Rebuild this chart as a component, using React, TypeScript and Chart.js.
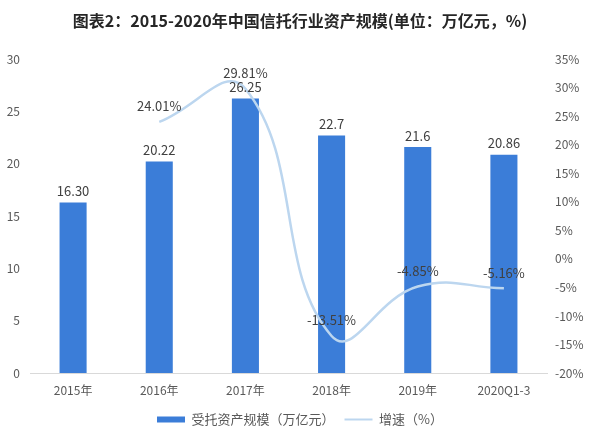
import React, { useEffect, useRef } from "react";
import { Chart, registerables } from "chart.js";

Chart.register(...registerables);

const categories = ["2015年", "2016年", "2017年", "2018年", "2019年", "2020Q1-3"];
const assetValues = [16.3, 20.22, 26.25, 22.7, 21.6, 20.86];
const assetLabels = ["16.30", "20.22", "26.25", "22.7", "21.6", "20.86"];
const growthValues = [null, 24.01, 29.81, -13.51, -4.85, -5.16];
const growthLabels = ["", "24.01%", "29.81%", "-13.51%", "-4.85%", "-5.16%"];

const titleText = "图表2：2015-2020年中国信托行业资产规模(单位：万亿元，%)";
const barName = "受托资产规模（万亿元）";
const lineName = "增速（%）";

const BAR_COLOR = "#3b7dd8";
const LINE_COLOR = "#bcd6ef";
const FONT = '"Noto Sans CJK SC", "Noto Sans", sans-serif';

const labelPlugin = {
  id: "valueLabels",
  afterDatasetsDraw(chart: any) {
    const ctx = chart.ctx;
    ctx.save();
    ctx.font = `13px ${FONT}`;
    ctx.fillStyle = "#404040";
    ctx.textAlign = "center";
    ctx.textBaseline = "bottom";
    const barMeta = chart.getDatasetMeta(0);
    barMeta.data.forEach((el: any, i: number) => {
      ctx.fillText(assetLabels[i], el.x, el.y - 5);
    });
    const lineMeta = chart.getDatasetMeta(1);
    lineMeta.data.forEach((el: any, i: number) => {
      if (growthValues[i] === null) return;
      ctx.fillText(growthLabels[i], el.x, el.y - 9);
    });
    ctx.restore();
  },
};

export default function App() {
  const ref = useRef<HTMLCanvasElement>(null);
  useEffect(() => {
    document.body.style.margin = "0";
    const chart = new Chart(ref.current as HTMLCanvasElement, {
      type: "bar",
      data: {
        labels: categories,
        datasets: [
          {
            type: "bar",
            label: barName,
            data: assetValues,
            backgroundColor: BAR_COLOR,
            borderWidth: 0,
            barPercentage: 0.314,
            categoryPercentage: 1,
            yAxisID: "y",
            order: 1,
          } as any,
          {
            type: "line",
            label: lineName,
            data: growthValues,
            borderColor: LINE_COLOR,
            backgroundColor: LINE_COLOR,
            borderWidth: 2.5,
            pointRadius: 0,
            tension: 0.45,
            yAxisID: "y1",
            order: 0,
          } as any,
        ],
      },
      options: {
        animation: false,
        responsive: false,
        layout: { padding: { left: 0, right: 0, top: 0, bottom: -3 } },
        plugins: {
          tooltip: { enabled: false },
          title: {
            display: true,
            text: titleText,
            color: "#262626",
            font: { family: FONT, size: 16, weight: "bold" },
            padding: { top: 11, bottom: 29 },
          },
          legend: {
            position: "bottom",
            labels: {
              font: { family: FONT, size: 13 },
              color: "#595959",
              usePointStyle: true,
              pointStyleWidth: 28,
              boxHeight: 6,
              padding: 10,
              sort: (a: any, b: any) => a.datasetIndex - b.datasetIndex,
              generateLabels: (c: any) => {
                const items = (Chart.defaults.plugins.legend.labels as any).generateLabels(c);
                return items.map((it: any) =>
                  it.datasetIndex === 0
                    ? { ...it, pointStyle: "rect", lineWidth: 0, fillStyle: BAR_COLOR }
                    : { ...it, pointStyle: "line", lineWidth: 2, strokeStyle: LINE_COLOR }
                );
              },
            },
          },
        },
        scales: {
          x: {
            grid: { display: false, drawTicks: false },
            border: { display: true, color: "#d9d9d9" },
            ticks: { color: "#595959", font: { family: FONT, size: 12 }, padding: 10 },
            afterFit: (s: any) => {
              s.height = 30;
            },
          },
          y: {
            position: "left",
            min: 0,
            max: 30,
            grid: { display: false, drawTicks: false },
            border: { display: false },
            ticks: { stepSize: 5, color: "#595959", font: { family: FONT, size: 12 }, padding: 10 },
            afterFit: (s: any) => {
              s.width = 30;
            },
          },
          y1: {
            position: "right",
            min: -20,
            max: 35,
            grid: { display: false, drawTicks: false },
            border: { display: false },
            ticks: {
              stepSize: 5,
              color: "#595959",
              font: { family: FONT, size: 12 },
              padding: 8,
              callback: (v: any) => `${v}%`,
            },
            afterFit: (s: any) => {
              s.width = 53;
            },
          },
        },
      },
      plugins: [labelPlugin],
    });
    return () => chart.destroy();
  }, []);
  return <canvas ref={ref} width={600} height={433} style={{ display: "block" }} />;
}
